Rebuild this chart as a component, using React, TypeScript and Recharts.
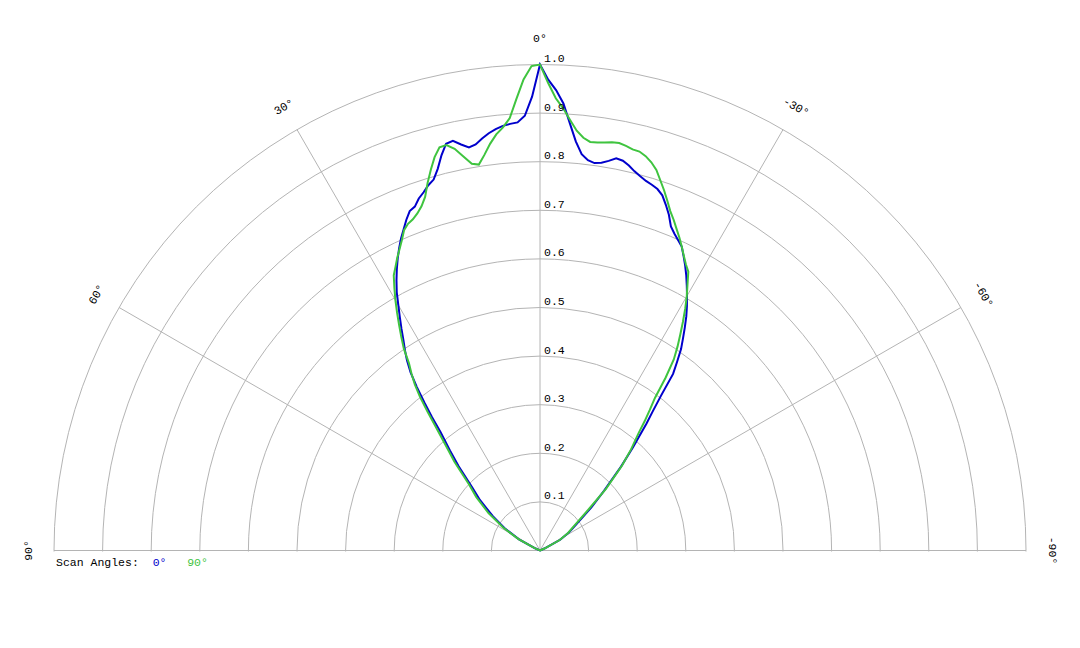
import React from "react";
import { RadarChart, Radar, PolarGrid, PolarAngleAxis, PolarRadiusAxis, Legend } from "recharts";

// angle of measurement in degrees (positive = left of centre)
const angles = [
  -90, -70, -66, -62, -58, -54, -50, -47, -44, -42,
  -40, -39, -38, -37, -36, -35, -34, -33, -32, -31,
  -30, -29, -28, -27, -26, -25, -24, -23, -22, -21,
  -20, -19, -18, -17, -16, -15, -14, -13, -12, -11,
  -10, -9, -8, -7, -6, -5, -4, -3, -2, -1,
  0,
  1, 2, 3, 4, 5, 6, 7, 8, 9, 10,
  11, 12, 13, 14, 15, 16, 17, 18, 19, 20,
  21, 22, 23, 24, 25, 26, 27, 28, 29, 30,
  31, 32, 33, 34, 35, 36, 37, 38, 39, 40,
  42, 44, 47, 50, 54, 58, 62, 66, 70, 90,
];

// normalised intensity, scan angle 0°
const scan0 = [
  0, 0, 0.01, 0.047, 0.07, 0.094, 0.138, 0.18, 0.24, 0.286,
  0.341, 0.369, 0.405, 0.455, 0.48, 0.506, 0.526, 0.547, 0.568, 0.587,
  0.605, 0.623, 0.641, 0.658, 0.674, 0.69, 0.699, 0.708, 0.719, 0.74,
  0.757, 0.773, 0.782, 0.787, 0.791, 0.797, 0.804, 0.813, 0.82, 0.822,
  0.814, 0.808, 0.805, 0.809, 0.82, 0.845, 0.881, 0.921, 0.948, 0.969,
  1.0,
  0.934, 0.895, 0.882, 0.88, 0.877, 0.872, 0.865, 0.856, 0.846, 0.842,
  0.851, 0.862, 0.859, 0.838, 0.813, 0.794, 0.786, 0.775, 0.766, 0.753,
  0.748, 0.734, 0.718, 0.703, 0.686, 0.668, 0.649, 0.629, 0.608, 0.583,
  0.56, 0.538, 0.516, 0.497, 0.477, 0.453, 0.421, 0.386, 0.353, 0.319,
  0.277, 0.241, 0.191, 0.161, 0.12, 0.084, 0.049, 0.01, 0, 0,
];

// normalised intensity, scan angle 90°
const scan90 = [
  0, 0, 0.01, 0.046, 0.068, 0.088, 0.128, 0.185, 0.243, 0.28,
  0.316, 0.342, 0.367, 0.393, 0.44, 0.48, 0.506, 0.53, 0.555, 0.58,
  0.604, 0.626, 0.65, 0.661, 0.675, 0.69, 0.705, 0.719, 0.734, 0.748,
  0.766, 0.784, 0.801, 0.819, 0.831, 0.84, 0.846, 0.847, 0.851, 0.854,
  0.853, 0.85, 0.848, 0.847, 0.854, 0.867, 0.888, 0.911, 0.931, 0.962,
  1.0,
  0.997, 0.97, 0.93, 0.892, 0.874, 0.861, 0.843, 0.822, 0.804, 0.808,
  0.826, 0.845, 0.856, 0.855, 0.838, 0.815, 0.791, 0.765, 0.749, 0.738,
  0.73, 0.725, 0.716, 0.699, 0.684, 0.67, 0.655, 0.641, 0.618, 0.595,
  0.571, 0.547, 0.524, 0.501, 0.47, 0.45, 0.428, 0.401, 0.368, 0.336,
  0.288, 0.253, 0.2, 0.171, 0.131, 0.09, 0.05, 0.012, 0, 0,
];

const angleTicks = [-90, -60, -30, 0, 30, 60, 90];
const radiusTicks = [0, 0.1, 0.2, 0.3, 0.4, 0.5, 0.6, 0.7, 0.8, 0.9, 1.0];
const seriesNames = ["0°", "90°"];
const seriesColors = ["#0000cc", "#3fc43f"];

const data = angles.map((angle, i) => ({ angle, s0: scan0[i], s90: scan90[i] }));

const FONT = '"Liberation Mono", "Courier New", monospace';
const CX = 540;
const CY = 550.5;
const R = 486;

const AngleTick = ({ x, y, payload }: any) => (
  <text
    x={x}
    y={y}
    textAnchor="middle"
    dominantBaseline="central"
    transform={`rotate(${-payload.value}, ${x}, ${y})`}
    fontFamily={FONT}
    fontSize={11.5}
    fill="#000"
  >
    {`${payload.value}°`}
  </text>
);

const RadiusTick = ({ x, y, payload }: any) => {
  if (!payload.value) return <g />;
  return (
    <text x={x + 4} y={y - 6} textAnchor="start" dominantBaseline="central" fontFamily={FONT} fontSize={11.5} fill="#000">
      {Number(payload.value).toFixed(1)}
    </text>
  );
};

const renderLegend = (props: any) => (
  <div style={{ fontFamily: FONT, fontSize: 11.5, lineHeight: "14px", color: "#000", whiteSpace: "pre" }}>
    Scan Angles:
    {(props.payload || []).map((p: any, i: number) => (
      <span key={p.value} style={{ color: p.color }}>
        {(i === 0 ? "  " : "   ") + p.value}
      </span>
    ))}
  </div>
);

export default function App() {
  return (
    <div style={{ position: "absolute", left: 0, top: 0, width: 1080, height: 648, background: "#fff" }}>
      <style>{`.recharts-polar-grid-concentric, .recharts-polar-grid-concentric-circle { clip-path: url(#upper-half); }`}</style>
      <RadarChart
        width={1080}
        height={648}
        data={data}
        cx={CX}
        cy={CY}
        outerRadius={R}
        startAngle={0}
        endAngle={180}
        margin={{ top: 0, right: 0, bottom: 0, left: 0 }}
      >
        <defs>
          <clipPath id="upper-half" clipPathUnits="userSpaceOnUse">
            <rect x={0} y={0} width={1080} height={CY + 1} />
          </clipPath>
        </defs>
        <PolarGrid gridType="circle" stroke="#b4b4b4" strokeWidth={1} />
        <PolarAngleAxis
          dataKey="angle"
          type="number"
          domain={[-90, 90]}
          ticks={angleTicks}
          tickCount={7}
          axisLine={false}
          tickLine={false}
          tickSize={26}
          tick={AngleTick}
        />
        <PolarRadiusAxis
          angle={90}
          type="number"
          scale="linear"
          domain={[0, 1]}
          ticks={radiusTicks}
          tickCount={11}
          axisLine={false}
          tick={RadiusTick}
        />
        <Radar
          name={seriesNames[0]}
          dataKey="s0"
          stroke={seriesColors[0]}
          strokeWidth={2}
          fill="none"
          dot={false}
          isAnimationActive={false}
        />
        <Radar
          name={seriesNames[1]}
          dataKey="s90"
          stroke={seriesColors[1]}
          strokeWidth={2}
          fill="none"
          dot={false}
          isAnimationActive={false}
        />
        <Legend content={renderLegend} wrapperStyle={{ left: 56, top: 556, width: "auto" }} />
      </RadarChart>
    </div>
  );
}
